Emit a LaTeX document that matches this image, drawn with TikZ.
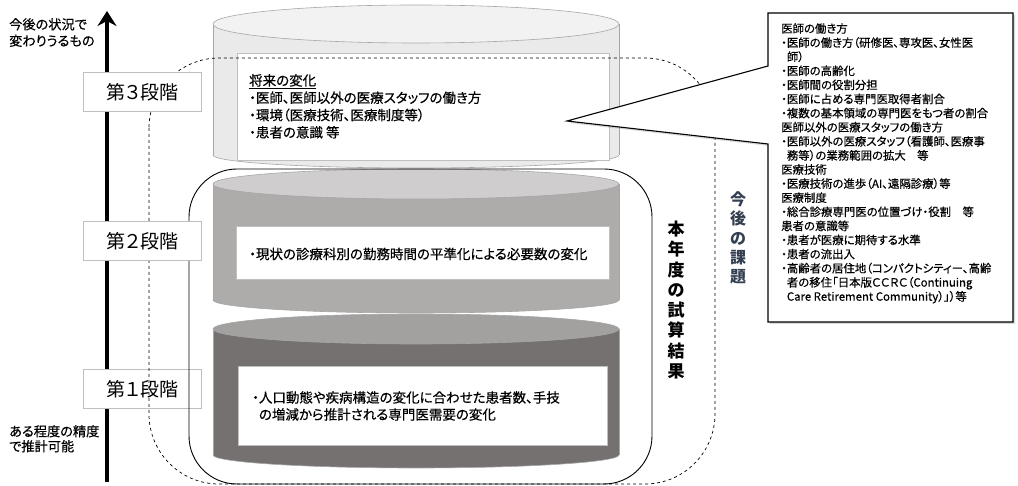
\documentclass[tikz,border=0pt]{standalone}
\usepackage{fontspec}
\setmainfont[RawFeature=+palt]{Noto Sans CJK JP}
\newfontfamily\jpmed[RawFeature=+palt,FakeBold=0.5]{Noto Sans CJK JP}
\usetikzlibrary{arrows.meta,shadows}
\definecolor{edgegray}{HTML}{A6A6A6}
\definecolor{topAface}{HTML}{F2F2F2}
\definecolor{topAbody}{HTML}{EAEAEA}
\definecolor{midface}{HTML}{CFCDCD}
\definecolor{midbody}{HTML}{AEABAB}
\definecolor{lowface}{HTML}{A3A0A0}
\definecolor{lowbody}{HTML}{767171}
\definecolor{boxedge}{HTML}{BFBFBF}
\definecolor{slate}{HTML}{333F50}
\newcommand{\drawcyl}[6]{%
  \filldraw[fill=#6, draw=edgegray, line width=0.6pt] (416,#2) ellipse [x radius=203, y radius=#4];
  \fill[#6] (213,#1) rectangle (619,#2);
  \draw[edgegray, line width=0.6pt] (213,#1) -- (213,#2) (619,#1) -- (619,#2);
  \filldraw[fill=#5, draw=edgegray, line width=0.6pt] (416,#1) ellipse [x radius=203, y radius=#3];
}
\tikzset{
  stagebox/.style={draw=boxedge, fill=white, line width=0.8pt, minimum width=118pt, minimum height=39pt, inner sep=0pt, font=\fontsize{19}{22}\selectfont},
  whitebox/.style={draw=boxedge, fill=white, line width=0.6pt},
  bodytext/.style={anchor=north west, align=left, inner sep=0pt},
  sidetext/.style={anchor=north west, align=left, inner sep=0pt, font=\jpmed\fontsize{13.2}{16.5}\selectfont},
  vtext/.style={align=center, inner sep=0pt, font=\bfseries\fontsize{17}{20.3}\selectfont},
}
\begin{document}
\begin{tikzpicture}[x=1pt,y=-1pt]
\useasboundingbox (0,0) rectangle (1018,486);
% axis arrow
\coordinate (arrowbot) at (107,482);
\coordinate (arrowtop) at (107,11);
\draw[line width=3.5pt, -{Stealth[length=15pt,width=19pt,inset=5pt]}] (arrowbot) -- (arrowtop);
% cylinders
\drawcyl{329}{455}{15}{13}{lowface}{lowbody}
\drawcyl{184}{300}{15}{13}{midface}{midbody}
\drawcyl{24}{155}{19}{13}{topAface}{topAbody}
% white text boxes
\node[whitebox, minimum width=372pt, minimum height=107pt, anchor=north west] (topbox) at (237,53) {};
\node[whitebox, minimum width=373pt, minimum height=53pt, anchor=north west] (midbox) at (236,226) {};
\node[whitebox, minimum width=369pt, minimum height=79pt, anchor=north west] (lowbox) at (238,366) {};
\node[bodytext, font=\jpmed\fontsize{13.5}{17.3}\selectfont] (toptext) at (249,74)
  {\underline{将来の変化}\\・医師、医師以外の医療スタッフの働き方\\・環境（医療技術、医療制度等）\\・患者の意識 等};
\node[anchor=west, inner sep=0pt, font=\jpmed\fontsize{13.5}{17}\selectfont] (midtext) at (249,254)
  {・現状の診療科別の勤務時間の平準化による必要数の変化};
\node[bodytext, font=\jpmed\fontsize{13.5}{17}\selectfont] (lowtext) at (252,391)
  {・人口動態や疾病構造の変化に合わせた患者数、手技\\\hspace*{0.5em}の増減から推計される専門医需要の変化};
% stage 1 box (under dashed line)
\node[stagebox, anchor=north west] (stage1) at (83,369) {第１段階};
% dashed and solid rounded frames
\draw[dashed, line width=0.7pt, rounded corners=70pt] (149,58) rectangle (715,484);
\draw[line width=0.9pt, rounded corners=48pt] (189,169) rectangle (652,484);
% stage boxes 2 and 3
\node[stagebox, anchor=north west] (stage2) at (83,221) {第２段階};
\node[stagebox, anchor=north west] (stage3) at (83,72) {第３段階};
% side texts
\node[sidetext] (futurelabel) at (9,18) {今後の状況で\\変わりうるもの};
\node[sidetext, font=\jpmed\fontsize{13.2}{15}\selectfont] (estlabel) at (9,425) {ある程度の精度\\で推計可能};
% vertical headings
\node[vtext] (thisyear) at (676,300) {本\\年\\度\\の\\試\\算\\結\\果};
\node[vtext, text=slate, font=\bfseries\fontsize{16}{19.3}\selectfont] (issues) at (738,238) {今\\後\\の\\課\\題};
% callout
\coordinate (tip) at (567,121);
\filldraw[fill=white, draw=black, line width=1.1pt, line join=miter,
  drop shadow={opacity=0.3, shadow xshift=2pt, shadow yshift=-2pt}]
  (768,13) -- (1013,13) -- (1013,322) -- (768,322) -- (768,144) -- (tip) -- (768,66) -- cycle;
\node[bodytext, font=\jpmed\fontsize{11.4}{14.1}\selectfont] (callouttext) at (781,23)
  {医師の働き方\\
   ・医師の働き方（研修医、専攻医、女性医\\
   \hspace*{0.5em}師）\\
   ・医師の高齢化\\
   ・医師間の役割分担\\
   ・医師に占める専門医取得者割合\\
   ・複数の基本領域の専門医をもつ者の割合\\
   医師以外の医療スタッフの働き方\\
   ・医師以外の医療スタッフ（看護師、医療事\\
   \hspace*{0.5em}務等）の業務範囲の拡大　等\\
   医療技術\\
   ・医療技術の進歩（AI、遠隔診療）等\\
   医療制度\\
   ・総合診療専門医の位置づけ・役割　等\\
   患者の意識等\\
   ・患者が医療に期待する水準\\
   ・患者の流出入\\
   ・高齢者の居住地（コンパクトシティー、高齢\\
   \hspace*{0.5em}者の移住「日本版ＣＣＲＣ（Continuing\\
   \hspace*{0.5em}Care Retirement Community）」）等};
\end{tikzpicture}
\end{document}
